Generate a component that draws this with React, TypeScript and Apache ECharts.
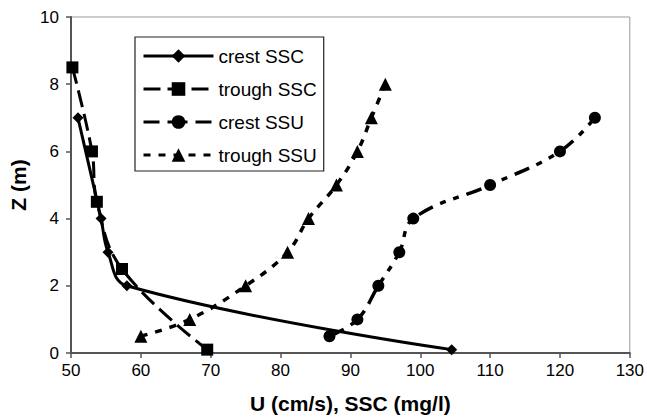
import React, { useEffect, useRef } from "react";
import * as echarts from "echarts";

const seriesNames = ["crest SSC", "trough SSC", "crest SSU", "trough SSU"];

const crestSSC_x = [51, 54.3, 55.3, 58, 104.5];
const crestSSC_z = [7, 4, 3, 2, 0.1];

const troughSSC_x = [50.2, 53, 53.7, 57.3, 69.5];
const troughSSC_z = [8.5, 6, 4.5, 2.5, 0.1];

const crestSSU_x = [87, 91, 94, 97, 99, 110, 120, 125];
const crestSSU_z = [0.5, 1, 2, 3, 4, 5, 6, 7];

const troughSSU_x = [60, 67, 75, 81, 84, 88, 91, 93, 95];
const troughSSU_z = [0.5, 1, 2, 3, 4, 5, 6, 7, 8];

const xTicks = { min: 50, max: 130, interval: 10 };
const yTicks = { min: 0, max: 10, interval: 2 };

const pair = (xs: number[], zs: number[]) => xs.map((x, i) => [x, zs[i]]);

export default function App() {
  const ref = useRef<HTMLDivElement>(null);
  useEffect(() => {
    if (!ref.current) return;
    const chart = echarts.init(ref.current, undefined, { renderer: "svg" });
    const font = "Liberation Sans, Arial, sans-serif";
    const base = {
      type: "line" as const,
      smooth: 0.4,
      clip: false,
      color: "#000",
    };
    chart.setOption({
      animation: false,
      backgroundColor: "#fff",
      textStyle: { fontFamily: font },
      grid: {
        left: 71,
        right: 17,
        top: 17,
        bottom: 62,
        show: true,
        borderColor: "#999",
        borderWidth: 1,
      },
      legend: {
        orient: "vertical",
        left: 135,
        top: 37,
        padding: [9, 7, 6, 7],
        borderColor: "#222",
        borderWidth: 1.2,
        backgroundColor: "#fff",
        itemWidth: 70,
        itemHeight: 17,
        itemGap: 13,
        lineStyle: { width: 3 },
        textStyle: { fontFamily: font, fontSize: 19, color: "#000", lineHeight: 20 },
        data: seriesNames,
      },
      xAxis: {
        type: "value",
        min: xTicks.min,
        max: xTicks.max,
        interval: xTicks.interval,
        name: "U (cm/s), SSC (mg/l)",
        nameLocation: "middle",
        nameGap: 40,
        nameTextStyle: { fontFamily: font, fontSize: 21, fontWeight: "bold", color: "#000" },
        axisLine: { show: true, lineStyle: { color: "#555", width: 2 } },
        axisTick: { show: true, length: 5, lineStyle: { color: "#555", width: 1.5 } },
        axisLabel: { fontFamily: font, fontSize: 17, color: "#000", margin: 9 },
        splitLine: { show: false },
      },
      yAxis: {
        type: "value",
        min: yTicks.min,
        max: yTicks.max,
        interval: yTicks.interval,
        name: "Z (m)",
        nameLocation: "middle",
        nameGap: 25,
        nameTextStyle: { fontFamily: font, fontSize: 21, fontWeight: "bold", color: "#000" },
        axisLine: { show: true, lineStyle: { color: "#555", width: 2 } },
        axisTick: { show: true, length: 5, lineStyle: { color: "#555", width: 1.5 } },
        axisLabel: { fontFamily: font, fontSize: 17, color: "#000", margin: 12 },
        splitLine: { show: false },
      },
      series: [
        {
          ...base,
          name: seriesNames[0],
          data: pair(crestSSC_x, crestSSC_z),
          symbol: "diamond",
          symbolSize: 11,
          lineStyle: { color: "#000", width: 3, type: "solid" },
          itemStyle: { color: "#000" },
        },
        {
          ...base,
          name: seriesNames[1],
          data: pair(troughSSC_x, troughSSC_z),
          symbol: "rect",
          symbolSize: 12,
          lineStyle: { color: "#000", width: 3, type: [17, 7] },
          itemStyle: { color: "#000" },
        },
        {
          ...base,
          name: seriesNames[2],
          data: pair(crestSSU_x, crestSSU_z),
          symbol: "circle",
          symbolSize: 12,
          lineStyle: { color: "#000", width: 3.5, type: [16, 8, 6, 8, 6, 8] },
          itemStyle: { color: "#000" },
        },
        {
          ...base,
          name: seriesNames[3],
          data: pair(troughSSU_x, troughSSU_z),
          symbol: "triangle",
          symbolSize: 13,
          lineStyle: { color: "#000", width: 3.5, type: [7, 8] },
          itemStyle: { color: "#000" },
        },
      ],
    });
    return () => chart.dispose();
  }, []);
  return <div ref={ref} style={{ width: 647, height: 419, position: "absolute", left: 0, top: 0 }} />;
}
